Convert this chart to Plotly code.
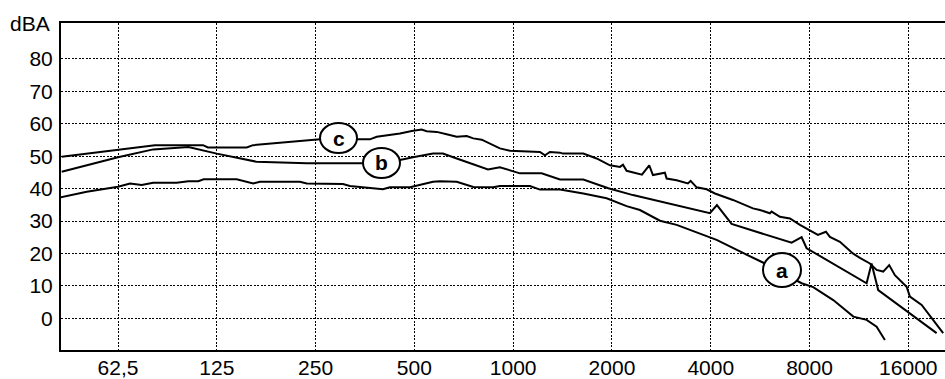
import plotly.graph_objects as go

# ---- data (frequency in Hz, level in dBA) ----
freq_c = [42.1, 81, 113.5, 117.5, 154.2, 161.1, 257.9, 336.6, 366, 384, 452, 491, 526, 545, 585, 627,
          673, 722, 756, 802, 850, 911, 978, 1207, 1250, 1294, 1389, 1418, 1636, 1796, 1972, 2116,
          2161, 2217, 2469, 2598, 2666, 2834, 2900, 2936, 3149, 3408, 3474, 3623, 3887, 4120, 4674,
          5378, 5649, 6058, 6130, 6498, 6973, 7479, 8022, 8484, 8975, 9230, 9901, 10845, 11391,
          12219, 12810, 13417, 13993, 14561, 15810, 16180, 17570, 19057, 20432]
db_c = [49.8, 53.4, 53.4, 52.7, 52.7, 53.4, 55.2, 55.2, 55.2, 56.0, 57.0, 57.8, 58.2, 57.7, 57.5, 56.8,
        56.0, 56.2, 55.5, 55.1, 53.9, 52.4, 51.7, 51.3, 50.3, 51.3, 51.1, 50.8, 50.8, 49.3, 47.2, 46.7,
        47.4, 45.5, 44.3, 47.2, 44.2, 44.7, 44.9, 43.1, 42.6, 41.6, 42.4, 40.4, 39.8, 38.5, 36.5,
        33.9, 33.4, 32.4, 32.9, 31.3, 30.8, 28.8, 27.2, 25.7, 26.7, 25.1, 23.6, 20.0, 18.6,
        16.9, 14.9, 14.4, 16.4, 13.3, 9.7, 6.7, 4.1, -0.5, -4.6]

freq_b = [42.1, 62.5, 80, 102.4, 125, 165, 235, 349, 452, 495, 570, 611, 673, 739, 838, 911, 1049,
          1221, 1389, 1636, 1950, 2317, 3977, 4178, 4630, 7056, 7568, 7839, 11941, 12363, 12952, 19515]
db_b = [45.2, 49.7, 52.1, 52.8, 50.8, 48.3, 47.8, 47.8, 48.8, 49.7, 50.8, 50.8, 49.3, 47.9, 45.9, 46.6,
        44.7, 44.7, 42.8, 42.8, 40.1, 38.0, 32.4, 34.9, 29.1, 23.3, 25.0, 21.6, 10.8, 16.9, 8.7, -4.6]

freq_a = [41.6, 50.2, 62.5, 68, 73.8, 80, 94.3, 102.4, 109.8, 114, 143.7, 161.4, 169.2, 224, 235, 303,
          318, 401, 421, 485, 570, 598, 673, 756, 869, 911, 1125, 1207, 1389, 1636, 1927, 2217, 2434,
          2801, 3149, 3623, 4168, 4910, 5768, 7568, 8208, 9449, 10880, 11941, 12810, 13575]
db_a = [37.3, 39.0, 40.6, 41.6, 41.1, 41.8, 41.8, 42.3, 42.3, 42.9, 42.9, 41.6, 42.1, 42.1, 41.6, 41.4,
        40.8, 39.8, 40.4, 40.4, 42.1, 42.3, 42.1, 40.5, 40.4, 40.8, 40.8, 39.7, 39.7, 38.5, 37.0, 34.6, 33.4,
        30.1, 28.8, 26.5, 24.2, 20.6, 17.2, 10.8, 9.6, 5.6, 0.5, -0.5, -2.6, -6.7]

x_tickvals = [62.5, 125, 250, 500, 1000, 2000, 4000, 8000, 16000]
x_ticktext = ["62,5", "125", "250", "500", "1000", "2000", "4000", "8000", "16000"]
y_tickvals = [0, 10, 20, 30, 40, 50, 60, 70, 80]
y_unit = "dBA"
curve_labels = ["a", "b", "c"]

FONT = "Liberation Sans, Arial, sans-serif"

fig = go.Figure()
for fx, fy in [(freq_a, db_a), (freq_b, db_b), (freq_c, db_c)]:
    fig.add_trace(go.Scatter(x=fx, y=fy, mode="lines",
                             line=dict(color="black", width=2), showlegend=False,
                             hoverinfo="skip"))

W, H = 945, 379
L, R, T, B = 61, 0, 23, 29
pw, ph = W - L - R, H - T - B

def px2paper(x, y):
    return (x - L) / pw, (H - B - y) / ph

# circled labels (pixel boxes of the ellipses)
boxes = {"c": (320, 123, 357, 153), "b": (363, 148, 400, 178), "a": (763, 253, 801, 287)}
for name in curve_labels:
    x0, y0, x1, y1 = boxes[name]
    px0, py1 = px2paper(x0, y0)
    px1, py0 = px2paper(x1, y1)
    fig.add_shape(type="circle", xref="paper", yref="paper", x0=px0, x1=px1, y0=py0, y1=py1,
                  line=dict(color="black", width=2), fillcolor="white", layer="above")
    cx, cy = px2paper((x0 + x1) / 2, (y0 + y1) / 2)
    fig.add_annotation(xref="paper", yref="paper", x=cx, y=cy, text="<b>%s</b>" % name,
                       showarrow=False, font=dict(family=FONT, size=21, color="black"),
                       xanchor="center", yanchor="middle")

fig.add_annotation(xref="paper", yref="paper", x=-9 / pw, y=1.0, text=y_unit, showarrow=False,
                   xanchor="right", yanchor="middle", font=dict(family=FONT, size=21, color="black"))

fig.update_layout(
    width=W, height=H, margin=dict(l=L, r=R, t=T, b=B, pad=0, autoexpand=False),
    paper_bgcolor="white", plot_bgcolor="white",
    font=dict(family=FONT, size=21, color="black"),
    xaxis=dict(type="log", range=[1.6222, 4.3159], tickvals=x_tickvals, ticktext=x_ticktext,
               showgrid=True, gridcolor="black", griddash="2px,1.5px", gridwidth=1,
               showline=True, linecolor="black", linewidth=2, mirror=True,
               ticks="", zeroline=False, ticklabelstandoff=-2, automargin=False),
    yaxis=dict(range=[-9.8, 91.1], tickvals=y_tickvals, showgrid=True, gridcolor="black",
               griddash="2px,1.5px", gridwidth=1, showline=True, linecolor="black", linewidth=2,
               ticks="", zeroline=False, ticklabelstandoff=2, automargin=False),
)

fig.write_html("out.html", config={"displayModeBar": False},
               post_script="document.body.style.margin='0';document.body.style.overflow='hidden';")
